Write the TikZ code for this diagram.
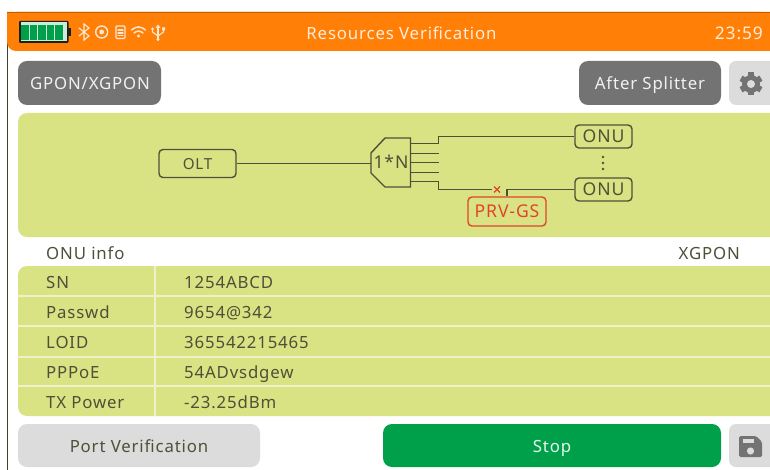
\documentclass[tikz,border=0pt]{standalone}
\usepackage{fontspec}
\setmainfont[LetterSpace=5]{Noto Sans}
\usetikzlibrary{calc}
\definecolor{orbar}{HTML}{FF7F07}
\definecolor{panel}{HTML}{D9E384}
\definecolor{btndark}{HTML}{737373}
\definecolor{btnlight}{HTML}{DCDCDC}
\definecolor{go}{HTML}{00A04A}
\definecolor{ink}{HTML}{4F5038}
\definecolor{redline}{HTML}{E0452C}
\newcommand{\basefs}{\fontsize{16.8}{20}\selectfont}
\tikzset{
  x=1pt,y=-1pt,
  txt/.style={font=\basefs,text=ink,inner sep=0pt,text height=12.2pt,text depth=0pt},
  wtxt/.style={font=\basefs,text=white,inner sep=0pt,text height=12.2pt,text depth=0pt},
  dbox/.style={draw=ink,line width=1.4pt,rounded corners=4pt,inner sep=0pt,font=\fontsize{17.6}{20}\selectfont,text=ink,text height=12.6pt,text depth=0pt},
  wire/.style={draw=ink,line width=1.4pt},
  seam/.style={draw=white!55!panel,line width=1.1pt},
  icon/.style={draw=white!82!orbar,line width=1.1pt,line cap=round},
}
\newcommand{\btn}[6]{\fill[#5,rounded corners=#6pt] (#1,#3) rectangle (#2,#4);}
\begin{document}
\begin{tikzpicture}
\useasboundingbox (0,0) rectangle (770,470);
\fill[white] (0,0) rectangle (770,470);
% frame
\draw[ink!80!black,line width=.9pt] (7,30) -- (7,470);
% top bar
\fill[orbar,rounded corners=9pt] (7,12) -- (7,51) -- (770,51) -- (770,12) -- cycle;
\fill[orbar] (7,12) rectangle (770,35) (700,12) rectangle (770,51);
\draw[orbar!75!black,line width=.7pt] (7,12.3) -- (770,12.3);
% battery
\fill[ink!40!black,rounded corners=1pt] (19,21) rectangle (68.5,43);
\fill[ink!40!black] (68,28) rectangle (71,36);
\fill[white!80!go] (20.5,22.5) rectangle (67,41.5);
\foreach \a in {21,29.5,38,46.5,55} {\fill[go] (\a,25) rectangle ($(\a,40)+(7.7,0)$);}
% status icons
\draw[icon] (79,28) -- (89,36) -- (84,40) -- (84,24) -- (89,28) -- (79,36);
\draw[icon,line width=1.4pt] (101.7,32) circle (6);
\fill[white!82!orbar] (101.7,32) circle (2.4);
\draw[icon,line width=1.3pt,rounded corners=1pt] (116,26) rectangle (125,38.5);
\draw[icon] (118,30) -- (123,30) (118,33) -- (123,33) (118,35.5) -- (123,35.5);
\draw[icon,line width=1.5pt] (131.5,30) .. controls (136,26) and (141,26) .. (145.5,30);
\draw[icon,line width=1.5pt] (134,33) .. controls (137,30.5) and (140,30.5) .. (143,33);
\fill[white!82!orbar] (138.5,36) circle (1.6);
\draw[icon] (158,26) -- (158,39);
\draw[icon] (152.5,30) -- (152.5,32) -- (158,36) -- (163.5,32) -- (163.5,30);
\fill[white!82!orbar] (158,24.5) -- (155.5,28) -- (160.5,28) -- cycle (158,39.5) circle (1.6) (152.5,29) circle (1.5) (162,27.5) rectangle (165,30.5);
\node[wtxt,text=white!85!orbar] (title) at (401.5,33) {Resources Verification};
\node[wtxt,text=white!85!orbar,anchor=east,font=\fontsize{17.4}{20}\selectfont] (clock) at (763,33) {23:59};
% buttons
\btn{18}{161}{61}{105}{btndark}{9}
\node[wtxt,text=white!90!btndark] (mode) at (90,83) {GPON/XGPON};
\btn{579}{721}{61}{105}{btndark}{9}
\node[wtxt,text=white!90!btndark] (split) at (650,83) {After Splitter};
\fill[btnlight,rounded corners=7pt] (729,61) rectangle (780,105);
% gear
\fill[btndark] (751,84) circle (9);
\foreach \r in {0,60,120,180,240,300} {\fill[btndark,rotate around={\r:(751,84)}] (748,72.5) rectangle (754,78);}
\fill[btnlight] (751,84) circle (4);
% diagram panel
\fill[panel,rounded corners=9pt] (18,113) rectangle (780,237);
\node[dbox,font=\fontsize{15.2}{20}\selectfont,minimum width=77pt,minimum height=28pt] (olt) at (197.5,163.5) {OLT};
\node[dbox,minimum width=57pt,minimum height=23pt] (onua) at (603.5,136.5) {ONU};
\node[dbox,minimum width=57pt,minimum height=23pt] (onub) at (603.5,189.5) {ONU};
\node[dbox,draw=redline,text=redline,minimum width=78pt,minimum height=29pt] (prv) at (507,211.5) {PRV-GS};
\draw[wire,fill=none] (385,138) -- (410.5,138) -- (410.5,187) -- (385,187) -- (371,173) -- (371,153) -- cycle;
\coordinate (spl) at (371,163.5);
\node[txt,font=\fontsize{17.6}{20}\selectfont] (ratio) at (391,162.8) {1*N};
\draw[wire] (olt.east) -- (spl);
\coordinate (p1) at (438.5,143.5); \coordinate (p2) at (438.5,153.5); \coordinate (p3) at (438.5,162.5);
\coordinate (p4) at (438.5,172.5); \coordinate (p5) at (438.5,181.5);
\draw[wire] (410.5,143.5) -- (p1) -- (p1 |- onua.west) -- (onua.west);
\draw[wire] (410.5,153.5) -- (p2);
\draw[wire] (410.5,162.5) -- (p3);
\draw[wire] (410.5,172.5) -- (p4);
\draw[wire] (410.5,181.5) -- (p5) -- (438.5,189.5) -- (492,189.5);
\coordinate (brk) at (497,189.5);
\draw[redline,line width=1.1pt] ($(brk)+(-3,-3)$) -- ($(brk)+(3,3)$) ($(brk)+(-3,3)$) -- ($(brk)+(3,-3)$);
\draw[wire] (prv.north) -- (507,189.5) -- (onub.west);
\fill[ink] (603,157) circle (1.4) (603,163) circle (1.4) (603,169) circle (1.4);
% info header
\node[txt,anchor=west] (info) at (46,253) {ONU info};
\node[txt,anchor=east] (pon) at (740,253) {XGPON};
% table
\fill[panel,rounded corners=9pt] (18,266) rectangle (780,416);
\draw[seam] (18,296) -- (770,296) (18,326) -- (770,326) (18,357) -- (770,357) (18,386) -- (770,386);
\draw[seam] (155,266) -- (155,416);
\node[txt,anchor=west] (k1) at (46,282) {SN};
\node[txt,anchor=west] (k2) at (46,312) {Passwd};
\node[txt,anchor=west] (k3) at (46,342) {LOID};
\node[txt,anchor=west] (k4) at (46,372) {PPPoE};
\node[txt,anchor=west] (k5) at (46,402) {TX Power};
\node[txt,anchor=west] (v1) at (184,282) {1254ABCD};
\node[txt,anchor=west] (v2) at (184,312) {9654@342};
\node[txt,anchor=west] (v3) at (184,342) {365542215465};
\node[txt,anchor=west] (v4) at (184,372) {54ADvsdgew};
\node[txt,anchor=west] (v5) at (184,402) {-23.25dBm};
% bottom buttons
\btn{18}{260}{424}{467}{btnlight}{9}
\node[txt] (port) at (139,446) {Port Verification};
\btn{383}{721}{424}{467}{go}{9}
\node[wtxt,text=white!90!go] (stop) at (552,446) {Stop};
\fill[btnlight,rounded corners=7pt] (729,424) rectangle (780,467);
% save icon
\fill[btndark,rounded corners=1.5pt] (739,436) -- (756,436) -- (762,442) -- (762,457) -- (739,457) -- cycle;
\fill[btnlight] (743,438.5) rectangle (754,442.5);
\fill[btnlight] (750.5,451) circle (3.6);
\end{tikzpicture}
\end{document}
